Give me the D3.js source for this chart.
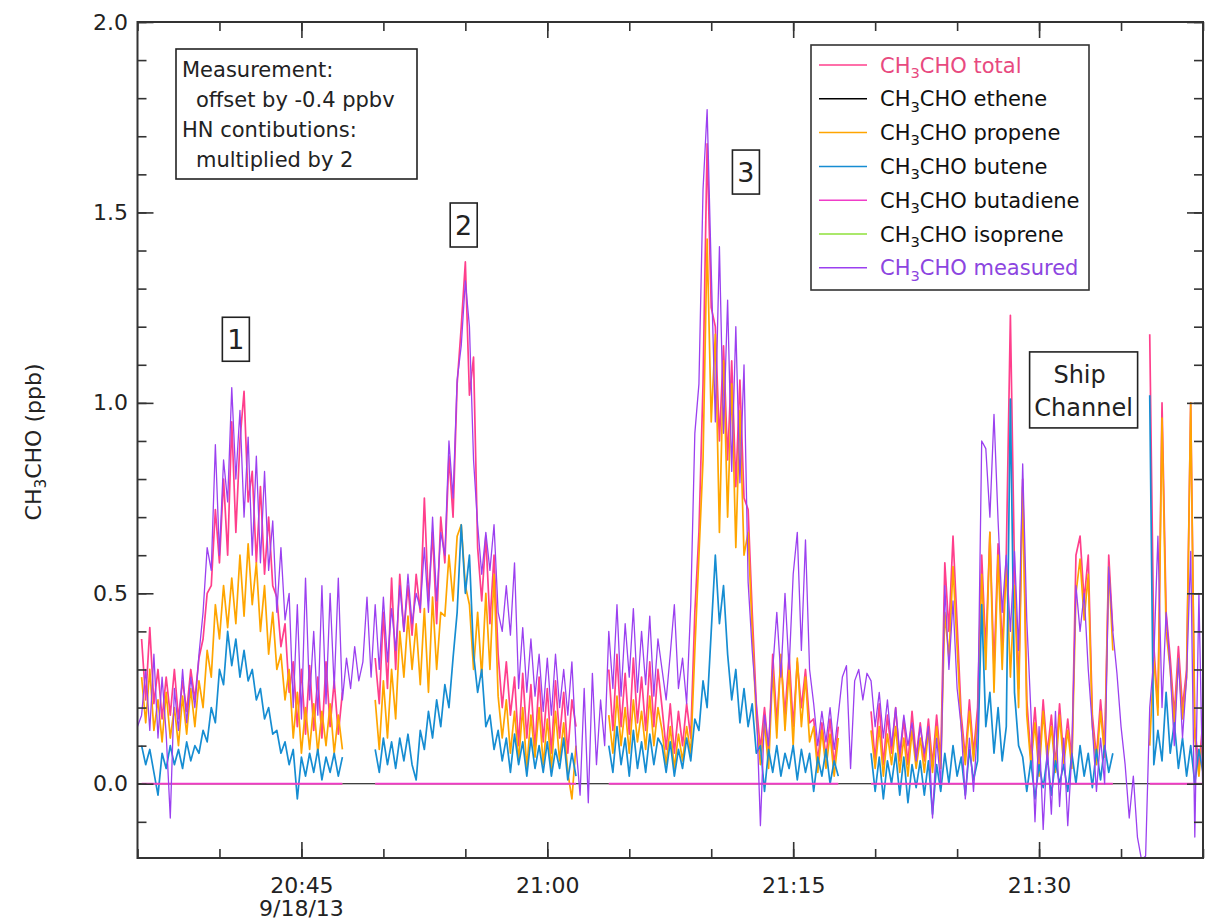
<!DOCTYPE html>
<html>
<head>
<meta charset="utf-8">
<script src="https://cdn.jsdelivr.net/npm/d3@7"></script>
<style>
	body { margin: 0; background: #fff; }
	text { font-family: "DejaVu Sans", sans-serif; fill: #222; }
</style>
</head>
<body>
<svg width="1205" height="923"></svg>
<script>
// Readings every 15 s from 20:35:00 (null = no HN data):
var startTime = "2013-09-18 20:35:00";
var endTime = "2013-09-18 21:40:00";
var stepSeconds = 15;

var total = [
	null,
	0.38,0.22,0.41,0.21,0.30,0.17,0.28,0.18,0.30,0.17,0.27,0.19,0.30,0.22,0.33,
	0.38,0.50,0.52,0.72,0.58,0.80,0.60,0.95,0.66,0.90,1.03,0.74,0.82,0.58,0.78,
	0.55,0.70,0.52,0.49,0.36,0.42,0.24,0.32,0.15,0.30,0.13,0.31,0.14,0.28,0.12,0.32,0.15,0.27,0.13,0.24,
	null,null,null,null,null,null,null,
	0.33,0.21,0.45,0.25,0.54,0.30,
	0.55,0.40,0.52,0.39,0.55,0.45,0.75,0.48,0.66,0.42,0.70,0.58,0.86,0.70,
	1.05,1.20,1.37,1.02,1.12,0.62,0.48,0.65,0.42,0.60,0.34,0.20,0.32,
	0.18,0.28,0.10,0.29,0.12,0.26,0.09,0.28,0.11,0.25,0.08,0.27,0.12,0.24,0.08,0.22,0.15,
	null,null,null,null,null,null,null,
	0.30,0.14,0.34,0.15,0.29,0.13,0.33,0.16,0.28,0.14,0.32,0.15,0.30,
	0.20,0.09,0.21,0.08,0.19,0.10,0.21,0.12,0.45,0.66,1.05,1.68,
	1.25,1.20,0.90,1.15,0.85,1.11,0.78,1.06,0.75,0.72,0.45,0.21,
	0.09,0.20,0.08,0.34,0.16,0.33,0.18,0.34,0.15,0.32,0.20,0.30,0.16,0.17,0.06,0.16,0.07,0.17,0.05,0.15,
	null,null,null,null,null,null,null,
	0.19,0.06,0.21,0.05,0.18,0.08,0.20,0.06,0.17,0.05,0.19,0.07,0.16,0.06,
	0.17,0.05,0.18,0.06,0.58,0.40,0.65,0.42,0.18,0.07,0.22,0.08,0.20,
	0.60,0.35,0.66,0.30,0.63,0.35,0.60,1.23,0.56,0.25,
	0.80,0.22,0.07,0.20,0.05,0.22,0.08,0.18,0.05,0.21,0.07,0.17,0.06,0.60,0.65,0.48,0.60,0.18,0.07,0.22,0.09,0.60,0.40,
	null,null,null,null,null,null,null,null,
	1.18,0.36,0.20,1.00,0.45,0.33,0.18,0.36,0.20,0.30,1.00,0.15,0.04,0.17
];

var propene = [
	null,
	0.28,0.16,0.30,0.14,0.22,0.11,0.24,0.12,0.20,0.10,0.23,0.13,0.25,0.15,0.27,
	0.20,0.35,0.28,0.47,0.38,0.52,0.41,0.54,0.42,0.60,0.44,0.63,0.47,0.58,0.40,
	0.52,0.34,0.45,0.30,0.34,0.22,0.30,0.12,0.24,0.08,0.20,0.09,0.21,0.08,0.19,0.10,0.21,0.08,0.18,0.09,
	null,null,null,null,null,null,null,
	0.22,0.09,0.27,0.12,0.30,0.17,
	0.40,0.28,0.44,0.30,0.42,0.26,0.46,0.24,0.49,0.30,0.45,0.44,0.60,0.48,
	0.65,0.68,0.52,0.47,0.30,0.45,0.28,0.50,0.30,0.55,0.23,0.12,0.22,
	0.08,0.19,0.06,0.20,0.04,0.18,0.07,0.20,0.05,0.17,0.04,0.19,0.06,0.16,0.03,-0.04,0.10,
	null,null,null,null,null,null,null,
	0.18,0.08,0.23,0.10,0.20,0.08,0.22,0.11,0.19,0.09,0.23,0.10,0.20,
	0.14,0.05,0.15,0.04,0.13,0.06,0.15,0.08,0.35,0.60,0.85,1.43,
	0.95,1.18,0.66,1.11,0.70,1.05,0.62,0.98,0.60,0.66,0.40,0.17,
	0.05,0.16,0.04,0.30,0.12,0.34,0.14,0.30,0.10,0.33,0.15,0.28,0.11,0.15,0.03,0.14,0.04,0.13,0.02,0.12,
	null,null,null,null,null,null,null,
	0.14,0.04,0.15,0.02,0.13,0.05,0.15,0.03,0.12,0.02,0.14,0.04,0.12,0.03,
	0.14,0.03,0.15,0.04,0.45,0.33,0.57,0.36,0.15,0.05,0.19,0.06,0.17,
	0.55,0.30,0.66,0.24,0.60,0.30,0.58,0.28,0.52,0.20,
	0.78,0.18,0.05,0.16,0.02,0.19,0.06,0.15,0.03,0.18,0.05,0.14,0.04,0.50,0.59,0.43,0.55,0.15,0.05,0.19,0.07,0.57,0.35,
	null,null,null,null,null,null,null,null,
	0.10,0.33,0.18,0.96,0.40,0.30,0.15,0.33,0.17,0.28,1.00,0.12,0.02,0.14
];

var butene = [
	null,
	0.10,0.05,0.09,0.03,-0.03,0.08,0.04,0.10,0.05,0.09,0.04,0.11,0.06,0.10,0.08,
	0.14,0.11,0.20,0.16,0.30,0.26,0.40,0.31,0.38,0.28,0.35,0.27,0.30,0.22,0.25,
	0.17,0.20,0.13,0.14,0.08,0.11,0.05,0.09,-0.04,0.07,0.02,0.08,0.03,0.09,0.01,0.07,0.03,0.08,0.02,0.07,
	null,null,null,null,null,null,null,
	0.09,0.03,0.12,0.05,0.11,0.04,
	0.12,0.06,0.13,0.05,0.01,0.14,0.09,0.19,0.12,0.22,0.15,0.26,0.20,0.33,
	0.45,0.68,0.50,0.60,0.34,0.24,0.30,0.15,0.18,0.09,0.14,0.06,0.12,
	0.03,0.13,0.05,0.11,0.02,0.12,0.04,0.10,0.03,0.11,0.02,0.09,0.04,0.12,0.01,0.08,0.02,
	null,null,null,null,null,null,null,
	0.10,0.03,0.15,0.05,0.12,0.02,0.14,0.04,0.11,0.03,0.13,0.05,0.12,
	0.10,0.03,0.11,0.02,0.09,0.04,0.12,0.06,0.17,0.14,0.27,0.20,
	0.40,0.60,0.42,0.52,0.34,0.22,0.30,0.16,0.25,0.15,0.21,0.08,
	0.10,-0.02,0.09,0.03,0.10,0.02,0.08,0.04,0.10,0.01,0.09,0.03,0.08,-0.02,0.07,0.02,0.09,0.00,0.06,0.02,
	null,null,null,null,null,null,null,
	0.08,-0.02,0.07,-0.04,0.06,0.00,0.08,-0.03,0.07,-0.05,0.05,-0.01,0.06,-0.03,
	0.06,-0.08,0.05,-0.02,0.08,0.00,0.10,0.02,0.07,-0.03,0.09,0.01,0.06,
	0.47,0.15,0.24,0.08,0.20,0.06,0.15,1.01,0.24,0.10,
	0.07,-0.02,0.06,-0.04,0.05,-0.01,0.07,-0.03,0.06,0.00,0.05,-0.02,0.08,0.00,0.10,0.02,0.08,-0.01,0.09,0.01,0.10,0.03,0.08,
	null,null,null,null,null,null,null,null,
	1.02,0.05,0.14,0.06,0.24,0.08,0.16,0.04,0.12,0.02,0.10,0.00,0.09,0.03
];

var measured = [
	0.15,0.18,0.30,0.14,0.34,0.12,0.28,0.13,-0.09,0.25,0.14,0.30,0.16,0.28,0.20,0.34,
	0.45,0.62,0.56,0.89,0.60,0.85,0.74,1.04,0.80,0.98,0.70,0.91,0.60,0.86,0.58,
	0.82,0.56,0.69,0.45,0.62,0.43,0.50,0.20,0.47,0.17,0.54,0.22,0.40,0.18,0.52,0.21,0.50,0.25,0.54,0.22,
	0.33,0.25,0.36,0.27,0.32,0.49,0.28,0.47,0.30,0.49,0.32,0.46,0.35,
	0.52,0.40,0.55,0.42,0.50,0.46,0.62,0.45,0.70,0.48,0.66,0.60,0.90,0.75,
	1.06,1.15,1.32,1.20,0.85,0.68,0.55,0.66,0.56,0.68,0.45,0.40,0.52,
	0.39,0.58,0.25,0.41,0.24,0.38,0.23,0.34,0.19,0.33,0.18,0.34,0.20,0.30,0.18,0.32,0.10,
	-0.03,0.25,-0.05,0.29,0.05,0.22,0.10,
	0.40,0.25,0.47,0.23,0.42,0.28,0.46,0.24,0.40,0.26,0.44,0.23,0.38,
	0.30,0.22,0.34,0.47,0.25,0.33,0.21,0.47,0.92,1.05,1.56,1.77,
	1.35,0.95,1.41,0.92,1.27,0.82,1.20,0.79,1.10,0.53,0.35,0.21,
	-0.11,0.18,0.10,0.30,0.45,0.28,0.50,0.30,0.55,0.66,0.35,0.64,0.30,0.21,0.10,0.19,0.11,0.20,0.09,0.18,
	0.28,0.31,0.04,0.27,0.30,0.22,0.29,
	0.27,0.15,0.24,0.12,0.22,0.10,0.20,0.08,0.18,0.10,0.16,0.06,0.15,0.08,
	0.15,-0.09,0.12,0.00,0.52,0.30,0.48,0.25,0.15,-0.04,0.12,-0.02,0.15,
	0.90,0.88,0.70,0.97,0.69,0.45,0.60,0.40,0.61,0.35,
	0.84,0.43,0.19,-0.10,0.15,-0.12,0.10,-0.08,0.19,-0.06,0.12,-0.11,0.08,0.52,0.40,0.50,0.30,0.15,-0.02,0.12,0.00,0.57,0.40,
	0.29,0.15,0.05,-0.09,0.02,-0.14,-0.20,-0.19,
	0.20,0.33,0.65,0.20,0.45,0.30,0.10,0.33,0.12,0.28,0.61,-0.14,0.50,-0.05
];

// Ethene, butadiene and isoprene lie flat on zero:
var flatLevel = 0;
var ethenePeriods = [["20:35:00", "21:40:00"]];
var flatPeriods = [["20:35:15", "20:47:30"], ["20:49:30", "21:01:45"], ["21:03:45", "21:17:45"],
	["21:19:45", "21:34:30"], ["21:36:45", "21:40:00"]];

// Legend:
var seriesNames = ["total", "ethene", "propene", "butene", "butadiene", "isoprene", "measured"];
var seriesColours = ["#ff3f8c", "#000000", "#ffa500", "#168dd2", "#f03cc8", "#8ee03a", "#9b40f0"];
var legendTextColours = ["#e84a80", "#111", "#111", "#111", "#111", "#111", "#8c45e0"];

// Axes and notes:
var xMajorTicks = ["20:45", "21:00", "21:15", "21:30"];
var yMajorTicks = [0, 0.5, 1.0, 1.5, 2.0];
var dateLabel = "9/18/13";
var noteLines = ["Measurement:", "offset by -0.4 ppbv", "HN contibutions:", "multiplied by 2"];
var peakLabels = ["1", "2", "3"];
var peakTimes = ["20:41:00", "20:54:54", "21:12:07"];
var peakLevels = [1.167, 1.467, 1.606];
var shipLines = ["Ship", "Channel"];

// Find svg and set up scales:
var svg = d3.select("svg"),
	width = +svg.attr("width"),
	height = +svg.attr("height");

var plot = {left: 137.5, right: 1203, top: 22, bottom: 858};
var day = "2013-09-18 ";
var parseTime = d3.timeParse("%Y-%m-%d %H:%M:%S");
var t0 = parseTime(startTime);
function at(hm) { return parseTime(day + (hm.length == 5 ? hm + ":00" : hm)); }

var x = d3.scaleTime()
	.domain([t0, parseTime(endTime)])
	.range([plot.left, plot.right]);
var y = d3.scaleLinear()
	.domain([-0.195, 2.0])
	.range([plot.bottom, plot.top]);

function toPoints(values) {
	return values.map(function(v, i) {
		return {t: new Date(t0.getTime() + i * stepSeconds * 1000), v: v};
	});
}

var line = d3.line()
	.defined(function(d) { return d.v != null; })
	.x(function(d) { return x(d.t); })
	.y(function(d) { return y(d.v); });

svg.append("clipPath").attr("id", "clip")
	.append("rect")
	.attr("x", plot.left).attr("y", plot.top)
	.attr("width", plot.right - plot.left).attr("height", plot.bottom - plot.top);

var traces = svg.append("g").attr("clip-path", "url(#clip)");

function drawTrace(points, colour, w) {
	traces.append("path")
		.datum(points)
		.attr("d", line)
		.attr("fill", "none")
		.attr("stroke", colour)
		.attr("stroke-width", w)
		.attr("stroke-linejoin", "round");
}

function flatPoints(periods) {
	var pts = [];
	periods.forEach(function(p) {
		pts.push({t: at(p[0]), v: flatLevel}, {t: at(p[1]), v: flatLevel}, {t: at(p[1]), v: null});
	});
	return pts;
}

// Draw traces (same order as legend, isoprene under butadiene):
drawTrace(toPoints(total), seriesColours[0], 1.7);
drawTrace(flatPoints(ethenePeriods), seriesColours[1], 1.2);
drawTrace(toPoints(propene), seriesColours[2], 1.7);
drawTrace(toPoints(butene), seriesColours[3], 1.7);
drawTrace(flatPoints(flatPeriods), seriesColours[5], 1.6);
drawTrace(flatPoints(flatPeriods), seriesColours[4], 1.8);
drawTrace(toPoints(measured), seriesColours[6], 1.3);

// Axes, ticks pointing inwards on all four sides:
function styleAxis(g, fontSize) {
	g.select(".domain").remove();
	g.selectAll(".tick line").attr("stroke", "#333").attr("stroke-width", 1.6);
	g.selectAll(".tick text")
		.attr("font-size", fontSize)
		.attr("font-family", "DejaVu Sans")
		.attr("fill", "#222");
}

var majorX = xMajorTicks.map(at);
var minorX = x.ticks(d3.timeMinute.every(5));
var minorY = y.ticks(20);

svg.append("g").attr("transform", "translate(0," + plot.bottom + ")")
	.call(d3.axisBottom(x).tickValues(minorX).tickSize(-9).tickFormat(""))
	.call(styleAxis, 22);
svg.append("g").attr("transform", "translate(0," + plot.bottom + ")")
	.call(d3.axisBottom(x).tickValues(majorX).tickSize(-16).tickPadding(19).tickFormat(d3.timeFormat("%H:%M")))
	.call(styleAxis, 22);
svg.append("g").attr("transform", "translate(0," + plot.top + ")")
	.call(d3.axisTop(x).tickValues(minorX).tickSize(-9).tickFormat(""))
	.call(styleAxis, 22);
svg.append("g").attr("transform", "translate(0," + plot.top + ")")
	.call(d3.axisTop(x).tickValues(majorX).tickSize(-16).tickFormat(""))
	.call(styleAxis, 22);

svg.append("g").attr("transform", "translate(" + plot.left + ",0)")
	.call(d3.axisLeft(y).tickValues(minorY).tickSize(-9).tickFormat(""))
	.call(styleAxis, 22);
svg.append("g").attr("transform", "translate(" + plot.left + ",0)")
	.call(d3.axisLeft(y).tickValues(yMajorTicks).tickSize(-16).tickPadding(9.5).tickFormat(d3.format(".1f")))
	.call(styleAxis, 22);
svg.append("g").attr("transform", "translate(" + plot.right + ",0)")
	.call(d3.axisRight(y).tickValues(minorY).tickSize(-9).tickFormat(""))
	.call(styleAxis, 22);
svg.append("g").attr("transform", "translate(" + plot.right + ",0)")
	.call(d3.axisRight(y).tickValues(yMajorTicks).tickSize(-16).tickFormat(""))
	.call(styleAxis, 22);

// Frame:
svg.append("rect")
	.attr("x", plot.left).attr("y", plot.top)
	.attr("width", plot.right - plot.left).attr("height", plot.bottom - plot.top)
	.attr("fill", "none").attr("stroke", "#333").attr("stroke-width", 2);

svg.append("text")
	.attr("x", x(majorX[0])).attr("y", 916)
	.attr("text-anchor", "middle").attr("font-size", 22)
	.text(dateLabel);

// CH3CHO with a subscript 3:
function chemLabel(sel, size, suffix) {
	sel.append("tspan").text("CH");
	sel.append("tspan").attr("dy", size * 0.25).attr("font-size", size * 0.7).text("3");
	sel.append("tspan").attr("dy", -size * 0.25).text("CHO" + suffix);
}

svg.append("text")
	.attr("transform", "translate(40.5,442) rotate(-90)")
	.attr("text-anchor", "middle").attr("font-size", 22)
	.call(chemLabel, 22, " (ppb)");

// Legend:
var legend = svg.append("g");
legend.append("rect")
	.attr("x", 811).attr("y", 45).attr("width", 278).attr("height", 245)
	.attr("fill", "#fff").attr("stroke", "#333").attr("stroke-width", 1.6);
seriesNames.forEach(function(name, k) {
	var ry = 65 + k * 33.8;
	legend.append("line")
		.attr("x1", 819).attr("x2", 867).attr("y1", ry).attr("y2", ry)
		.attr("stroke", seriesColours[k]).attr("stroke-width", 1.5);
	legend.append("text")
		.attr("x", 880).attr("y", ry + 7.5)
		.attr("font-size", 21)
		.style("fill", legendTextColours[k])
		.call(chemLabel, 21, " " + name);
});

// Note box:
svg.append("rect")
	.attr("x", 176).attr("y", 49).attr("width", 241).attr("height", 130)
	.attr("fill", "#fff").attr("stroke", "#222").attr("stroke-width", 1.6);
noteLines.forEach(function(s, k) {
	svg.append("text")
		.attr("x", k % 2 ? 196 : 182).attr("y", 77 + k * 30)
		.attr("font-size", 21)
		.text(s);
});

// Peak labels:
peakLabels.forEach(function(s, k) {
	var cx = x(at(peakTimes[k])), cy = y(peakLevels[k]);
	svg.append("rect")
		.attr("x", cx - 13.5).attr("y", cy - 22).attr("width", 27).attr("height", 44)
		.attr("fill", "none").attr("stroke", "#222").attr("stroke-width", 1.6);
	svg.append("text")
		.attr("x", cx).attr("y", cy + 10)
		.attr("text-anchor", "middle").attr("font-size", 27)
		.text(s);
});

var sx = x(at("21:32:43")), sy = y(1.034);
svg.append("rect")
	.attr("x", sx - 54).attr("y", sy - 38).attr("width", 108).attr("height", 76)
	.attr("fill", "#fff").attr("stroke", "#222").attr("stroke-width", 1.6);
shipLines.forEach(function(s, k) {
	svg.append("text")
		.attr("x", sx - 4 + k * 4).attr("y", sy - 7 + k * 33)
		.attr("text-anchor", "middle").attr("font-size", 24)
		.text(s);
});
</script>
</body>
</html>
